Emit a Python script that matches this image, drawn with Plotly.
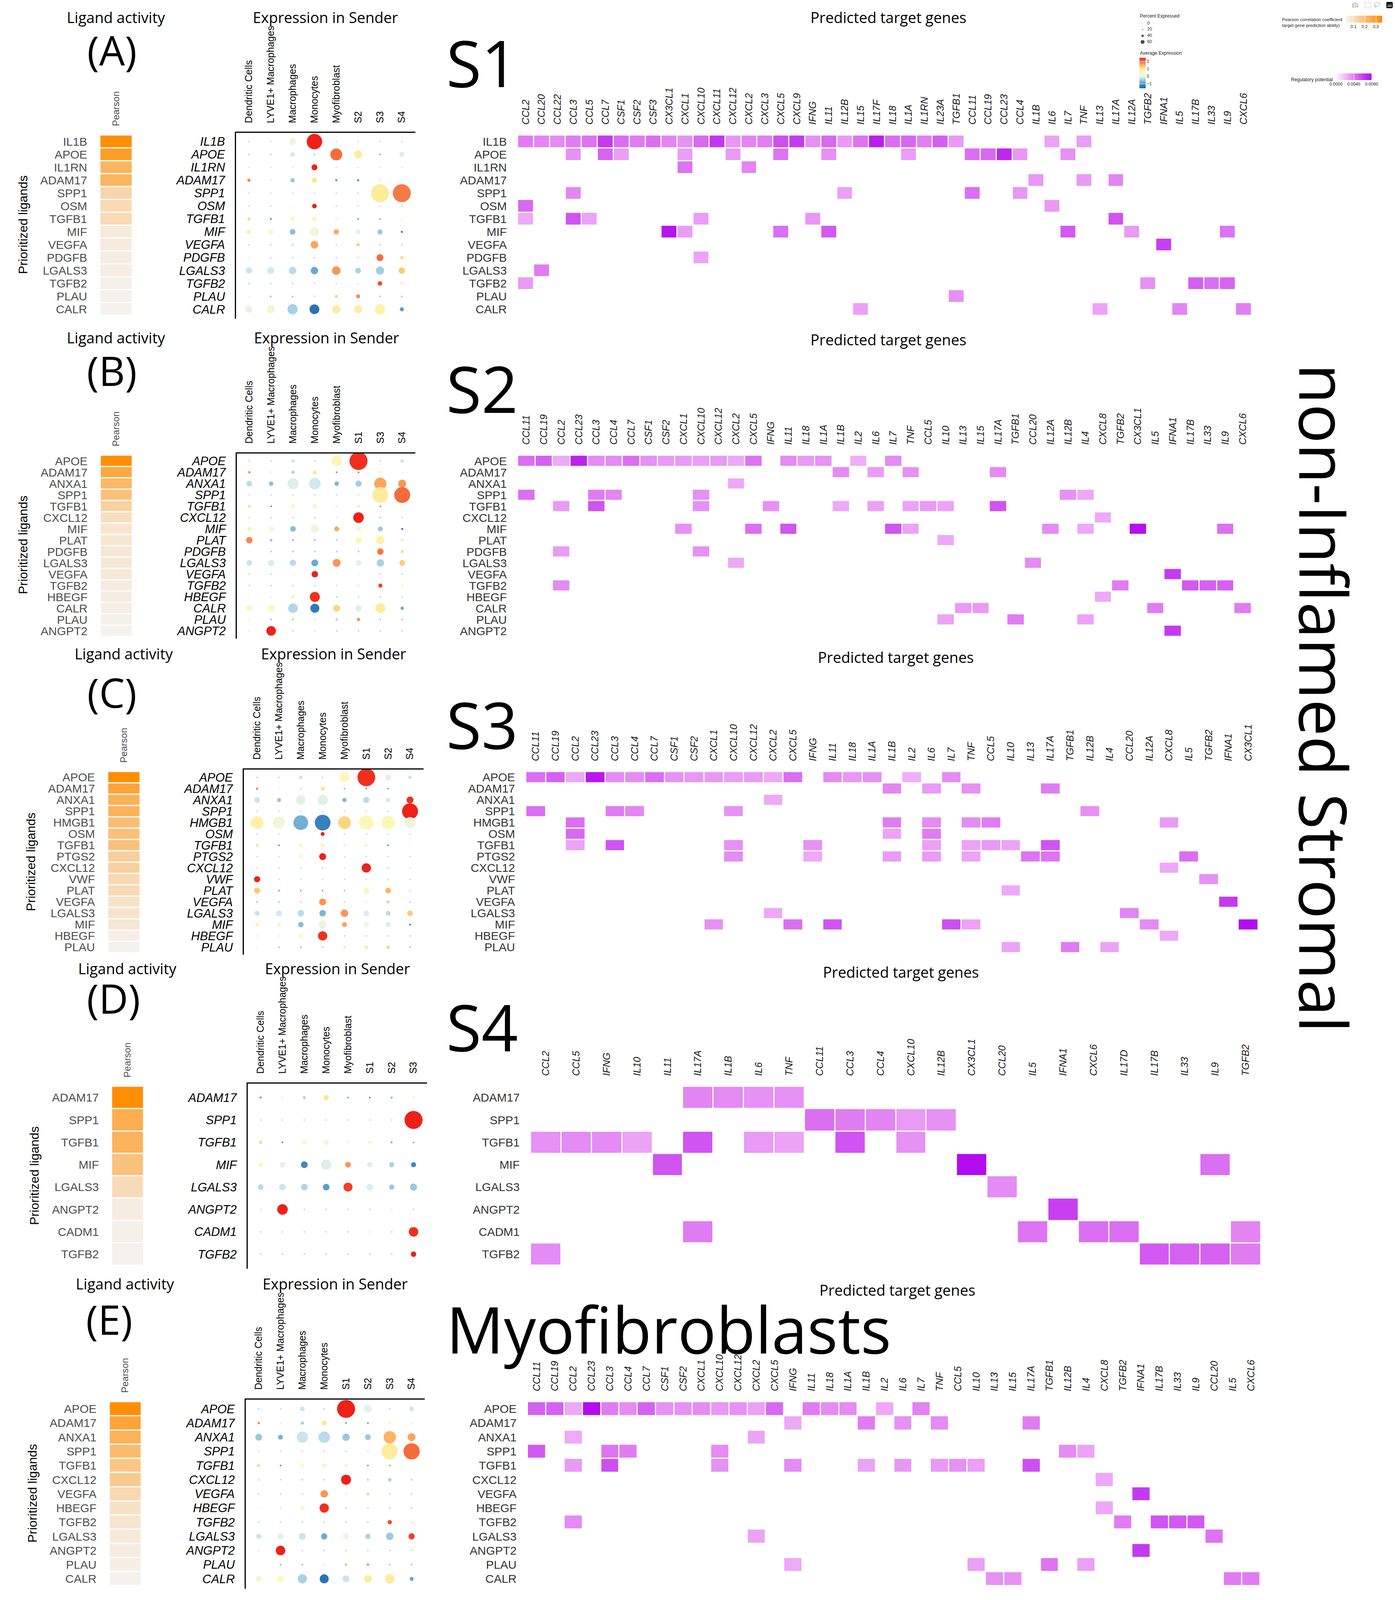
import plotly.graph_objects as go

W, H = 3570, 4997          # reference canvas (all positions below are given in this pixel space)
H_VIEW = 4096              # fallback figure height (the page is resized to the real viewport by JS)

# ============================ DATA ============================
# ---------- Panel A : receiver S1 ----------
A_ligands = ["IL1B", "APOE", "IL1RN", "ADAM17", "SPP1", "OSM", "TGFB1", "MIF", "VEGFA", "PDGFB",
             "LGALS3", "TGFB2", "PLAU", "CALR"]
A_pearson = [0.35, 0.30, 0.23, 0.23, 0.13, 0.115, 0.115, 0.065, 0.06, 0.055, 0.052, 0.045, 0.042, 0.04]
A_senders = ["Dendritic Cells", "LYVE1+ Macrophages", "Macrophages", "Monocytes", "Myofibroblast", "S2", "S3", "S4"]
A_avg_expr = [
    [-0.3, -0.3, 0.2, 2.5, -0.3, -0.3, -0.3, -0.3],
    [-0.5, -0.5, -0.1, -0.6, 2.0, 0.9, -0.6, -0.05],
    [-0.2, -0.2, -0.1, 2.5, -0.2, -0.2, -0.2, -0.2],
    [1.8, -0.2, -0.5, 1.0, -1.0, -1.1, 0.6, -0.1],
    [-0.3, -0.3, -0.3, -0.3, -0.3, -0.3, 0.9, 1.9],
    [-0.3, -0.3, 0.4, 2.5, -0.3, -0.3, -0.3, -0.3],
    [1.2, -1.2, 0.6, 0.5, 0.2, -1.0, -0.7, 0.8],
    [0.8, 0.4, -0.6, 0.3, 1.6, 0.1, -0.5, -1.3],
    [-0.4, -0.4, -0.1, 1.6, -0.3, 1.3, -0.4, -0.4],
    [-0.1, -0.4, -0.4, -0.4, -0.4, -0.3, 2.0, 1.2],
    [-0.2, -0.15, -0.3, -0.8, 1.7, -0.4, -0.45, 1.3],
    [-0.4, -0.4, -0.4, -0.3, -0.3, -0.2, 2.2, 0.9],
    [0.3, -0.7, -0.7, -0.1, 1.3, 1.8, -0.6, -0.6],
    [0.15, 0.4, -0.4, -1.4, 0.9, 0.85, 0.75, -0.9],
]
A_pct_expr = [
    [4, 4, 28, 60, 4, 4, 4, 4],
    [4, 4, 20, 5, 46, 31, 7, 20],
    [3, 3, 3, 23, 3, 3, 3, 3],
    [12, 6, 17, 19, 8, 8, 13, 5],
    [4, 4, 4, 4, 4, 4, 70, 70],
    [4, 4, 5, 18, 4, 4, 4, 4],
    [12, 7, 18, 20, 9, 7, 7, 7],
    [18, 20, 22, 35, 20, 20, 20, 8],
    [4, 4, 12, 30, 4, 13, 4, 4],
    [4, 4, 4, 4, 4, 4, 27, 12],
    [25, 28, 29, 29, 33, 22, 32, 25],
    [4, 4, 4, 4, 4, 4, 18, 9],
    [8, 4, 4, 9, 11, 15, 5, 5],
    [27, 31, 40, 38, 32, 31, 40, 16],
]
A_targets = ["CCL2", "CCL20", "CCL22", "CCL3", "CCL5", "CCL7", "CSF1", "CSF2", "CSF3", "CX3CL1", "CXCL1",
             "CXCL10", "CXCL11", "CXCL12", "CXCL2", "CXCL3", "CXCL5", "CXCL9", "IFNG", "IL11", "IL12B", "IL15",
             "IL17F", "IL18", "IL1A", "IL1RN", "IL23A", "TGFB1", "CCL11", "CCL19", "CCL23", "CCL4", "IL1B", "IL6",
             "IL7", "TNF", "IL13", "IL17A", "IL12A", "TGFB2", "IFNA1", "IL5", "IL17B", "IL33", "IL9", "CXCL6"]
A_potential = {
    "IL1B": {"CCL2": 0.0045, "CCL20": 0.0042, "CCL22": 0.0040, "CCL3": 0.0045, "CCL5": 0.0048, "CCL7": 0.0070,
             "CSF1": 0.0050, "CSF2": 0.0045, "CSF3": 0.0050, "CX3CL1": 0.0042, "CXCL1": 0.0038, "CXCL10": 0.0052,
             "CXCL11": 0.0072, "CXCL12": 0.0036, "CXCL2": 0.0042, "CXCL3": 0.0044, "CXCL5": 0.0062, "CXCL9": 0.0070,
             "IFNG": 0.0038, "IL11": 0.0052, "IL12B": 0.0035, "IL15": 0.0048, "IL17F": 0.0082, "IL18": 0.0050,
             "IL1A": 0.0053, "IL1RN": 0.0044, "IL23A": 0.0056, "TGFB1": 0.0035, "IL6": 0.0032, "TNF": 0.0034},
    "APOE": {"CCL3": 0.0038, "CCL7": 0.0054, "CSF1": 0.0033, "CXCL1": 0.0034, "CXCL12": 0.0035, "CXCL5": 0.0048,
             "IL11": 0.0038, "IL1A": 0.0034, "CCL11": 0.0050, "CCL19": 0.0052, "CCL23": 0.0078, "CCL4": 0.0036,
             "IL7": 0.0038},
    "IL1RN": {"CXCL1": 0.0048, "CXCL2": 0.0042},
    "ADAM17": {"IL1B": 0.0036, "TNF": 0.0035, "IL17A": 0.0042},
    "SPP1": {"CCL3": 0.0042, "IL12B": 0.0033, "CCL11": 0.0050, "CCL4": 0.0036},
    "OSM": {"CCL2": 0.0052, "IL6": 0.0035},
    "TGFB1": {"CCL2": 0.0030, "CCL3": 0.0060, "CCL5": 0.0032, "CXCL10": 0.0034, "IFNG": 0.0036, "IL17A": 0.0060},
    "MIF": {"CX3CL1": 0.0086, "CXCL1": 0.0034, "CXCL5": 0.0050, "IL11": 0.0058, "IL7": 0.0058, "IL12A": 0.0035,
            "IL9": 0.0048},
    "VEGFA": {"IFNA1": 0.0068},
    "PDGFB": {"CXCL10": 0.0032},
    "LGALS3": {"CCL20": 0.0045},
    "TGFB2": {"CCL2": 0.0035, "TGFB2": 0.0038, "IL17B": 0.0056, "IL33": 0.0050, "IL9": 0.0054},
    "PLAU": {"TGFB1": 0.0038},
    "CALR": {"IL15": 0.0033, "IL13": 0.0032, "IL5": 0.0042, "CXCL6": 0.0044},
}

# ---------- Panel B : receiver S2 ----------
B_ligands = ["APOE", "ADAM17", "ANXA1", "SPP1", "TGFB1", "CXCL12", "MIF", "PLAT", "PDGFB", "LGALS3", "VEGFA",
             "TGFB2", "HBEGF", "CALR", "PLAU", "ANGPT2"]
B_pearson = [0.35, 0.27, 0.22, 0.195, 0.145, 0.10, 0.08, 0.075, 0.072, 0.07, 0.068, 0.06, 0.055, 0.052, 0.045, 0.04]
B_senders = ["Dendritic Cells", "LYVE1+ Macrophages", "Macrophages", "Monocytes", "Myofibroblast", "S1", "S3", "S4"]
B_avg_expr = [
    [-0.4, -0.4, -0.2, -0.4, 0.6, 2.4, -0.4, -0.2],
    [1.8, -0.1, -0.4, 1.0, -0.9, -1.2, 0.6, 0.1],
    [-0.3, -0.6, 0.0, -0.15, -0.7, -0.45, 1.6, 1.7],
    [-0.3, -0.3, -0.3, -0.3, -0.3, -0.3, 0.9, 2.0],
    [1.2, -1.3, 0.6, 0.4, 0.15, 1.0, -0.8, 0.8],
    [0.2, -0.4, -0.1, -0.4, -0.2, 2.5, -0.1, -0.3],
    [0.8, 0.4, -0.6, 0.3, 1.6, 0.3, -0.5, -1.3],
    [1.8, -0.6, -0.9, -0.8, -0.6, 0.6, 0.8, 0.2],
    [0.1, -0.5, -0.5, -0.5, -0.5, -0.6, 1.9, 1.2],
    [-0.2, -0.1, -0.3, -0.8, 1.7, 0.0, -0.4, 1.3],
    [-0.4, -0.4, 0.1, 2.5, 0.1, 0.1, -0.4, -0.4],
    [-0.4, -0.4, -0.4, -0.3, -0.3, -0.3, 2.3, 0.9],
    [0.2, -0.1, 0.5, 2.4, -0.4, -0.4, -0.4, -0.4],
    [0.4, 0.6, -0.35, -1.3, 1.2, 0.0, 0.9, -0.8],
    [0.4, -0.7, -0.7, -0.2, 1.4, 1.7, -0.6, -0.6],
    [-0.1, 2.5, -0.4, -0.2, -0.4, -0.4, -0.4, -0.4],
]
B_pct_expr = [
    [4, 4, 14, 6, 41, 70, 6, 14],
    [9, 5, 12, 16, 7, 6, 11, 5],
    [22, 17, 43, 45, 17, 24, 47, 31],
    [4, 4, 4, 4, 4, 4, 62, 62],
    [10, 6, 17, 18, 9, 9, 7, 7],
    [13, 4, 9, 5, 6, 41, 13, 6],
    [16, 20, 22, 32, 19, 19, 19, 8],
    [25, 9, 6, 6, 6, 25, 32, 14],
    [5, 4, 4, 4, 4, 4, 25, 11],
    [22, 24, 25, 27, 31, 22, 29, 22],
    [4, 4, 7, 25, 4, 4, 4, 4],
    [4, 4, 4, 4, 4, 4, 16, 8],
    [5, 4, 17, 39, 4, 4, 4, 4],
    [24, 27, 37, 35, 27, 24, 38, 13],
    [7, 4, 4, 5, 9, 13, 4, 4],
    [4, 37, 4, 4, 4, 4, 4, 4],
]
B_targets = ["CCL11", "CCL19", "CCL2", "CCL23", "CCL3", "CCL4", "CCL7", "CSF1", "CSF2", "CXCL1", "CXCL10", "CXCL12",
             "CXCL2", "CXCL5", "IFNG", "IL11", "IL18", "IL1A", "IL1B", "IL2", "IL6", "IL7", "TNF", "CCL5", "IL10",
             "IL13", "IL15", "IL17A", "TGFB1", "CCL20", "IL12A", "IL12B", "IL4", "CXCL8", "TGFB2", "CX3CL1", "IL5",
             "IFNA1", "IL17B", "IL33", "IL9", "CXCL6"]
B_potential = {
    "APOE": {"CCL11": 0.0050, "CCL19": 0.0055, "CCL2": 0.0030, "CCL23": 0.0080, "CCL3": 0.0040, "CCL4": 0.0040,
             "CCL7": 0.0050, "CSF1": 0.0038, "CSF2": 0.0035, "CXCL1": 0.0035, "CXCL10": 0.0033, "CXCL12": 0.0035,
             "CXCL2": 0.0030, "CXCL5": 0.0048, "IL11": 0.0040, "IL18": 0.0035, "IL1A": 0.0037, "IL2": 0.0028,
             "IL7": 0.0040},
    "ADAM17": {"IL1B": 0.0040, "IL6": 0.0035, "TNF": 0.0038, "IL17A": 0.0040},
    "ANXA1": {"CXCL2": 0.0030},
    "SPP1": {"CCL11": 0.0050, "CCL3": 0.0045, "CCL4": 0.0042, "CXCL10": 0.0038, "IL12B": 0.0038, "IL4": 0.0030},
    "TGFB1": {"CCL2": 0.0035, "CCL3": 0.0060, "CXCL10": 0.0038, "IFNG": 0.0038, "IL1B": 0.0030, "IL6": 0.0033,
              "TNF": 0.0032, "CCL5": 0.0035, "IL10": 0.0032, "IL17A": 0.0060},
    "CXCL12": {"CXCL8": 0.0030},
    "MIF": {"CXCL1": 0.0038, "CXCL5": 0.0050, "IL11": 0.0060, "IL7": 0.0060, "TNF": 0.0032, "IL12A": 0.0040,
            "IL4": 0.0030, "CX3CL1": 0.0088, "IL9": 0.0050},
    "PLAT": {"IL10": 0.0030},
    "PDGFB": {"CCL2": 0.0035, "CXCL10": 0.0038},
    "LGALS3": {"CXCL2": 0.0030, "CCL20": 0.0040},
    "VEGFA": {"IFNA1": 0.0070},
    "TGFB2": {"CCL2": 0.0040, "TGFB2": 0.0045, "IL17B": 0.0058, "IL33": 0.0055, "IL9": 0.0055},
    "HBEGF": {"CXCL8": 0.0030},
    "CALR": {"IL13": 0.0035, "IL15": 0.0035, "IL5": 0.0045, "CXCL6": 0.0045},
    "PLAU": {"IL10": 0.0032, "TGFB1": 0.0045, "IL4": 0.0032},
    "ANGPT2": {"IFNA1": 0.0070},
}

# ---------- Panel C : receiver S3 ----------
C_ligands = ["APOE", "ADAM17", "ANXA1", "SPP1", "HMGB1", "OSM", "TGFB1", "PTGS2", "CXCL12", "VWF", "PLAT",
             "VEGFA", "LGALS3", "MIF", "HBEGF", "PLAU"]
C_pearson = [0.35, 0.28, 0.24, 0.235, 0.20, 0.195, 0.19, 0.15, 0.145, 0.12, 0.115, 0.09, 0.085, 0.075, 0.05, 0.04]
C_senders = ["Dendritic Cells", "LYVE1+ Macrophages", "Macrophages", "Monocytes", "Myofibroblast", "S1", "S2", "S4"]
C_avg_expr = [
    [-0.4, -0.4, -0.2, -0.4, 0.6, 2.4, 0.1, -0.2],
    [1.8, 0.1, 0.0, 1.0, -0.6, -1.0, -0.8, 0.2],
    [-0.2, -0.5, 0.1, 0.05, -0.7, -0.3, -0.1, 2.4],
    [-0.3, -0.3, -0.3, -0.3, -0.3, -0.3, -0.3, 2.5],
    [0.8, 0.3, -0.75, -1.2, 1.2, 0.55, 0.6, 0.2],
    [-0.3, -0.3, 0.5, 2.5, -0.3, -0.3, -0.3, -0.3],
    [1.2, -1.3, 0.5, 0.35, 0.15, 0.9, -1.0, 0.8],
    [-0.3, -0.3, 0.5, 2.5, -0.3, -0.3, -0.3, -0.3],
    [0.2, -0.4, -0.1, -0.4, -0.2, 2.5, -0.1, -0.2],
    [2.5, -0.3, -0.3, -0.3, -0.3, -0.3, -0.3, -0.3],
    [1.3, -0.6, -0.9, -0.9, -0.6, 0.6, 1.5, 0.2],
    [-0.6, -0.6, -0.1, 1.7, -0.4, -0.2, 1.3, -0.4],
    [-0.2, -0.15, -0.3, -0.7, 1.7, -0.05, -0.3, 1.3],
    [0.8, 0.3, -0.6, 0.2, 1.6, 0.2, 0.0, -1.3],
    [0.2, -0.1, 0.5, 2.4, -0.4, -0.4, -0.4, -0.4],
    [0.3, -0.7, -0.7, -0.2, 1.0, 1.0, 1.2, -0.6],
]
C_pct_expr = [
    [4, 4, 14, 6, 38, 69, 24, 14],
    [9, 5, 12, 16, 7, 6, 7, 5],
    [22, 16, 37, 40, 16, 24, 19, 27],
    [4, 4, 4, 4, 4, 4, 4, 62],
    [49, 46, 57, 61, 50, 56, 53, 43],
    [4, 4, 5, 15, 4, 4, 4, 4],
    [10, 6, 16, 17, 9, 9, 7, 6],
    [4, 4, 15, 27, 4, 4, 4, 4],
    [13, 4, 9, 4, 6, 36, 10, 6],
    [24, 3, 3, 3, 3, 3, 3, 3],
    [24, 8, 6, 6, 6, 22, 22, 12],
    [4, 4, 9, 27, 4, 6, 11, 4],
    [20, 24, 25, 25, 29, 22, 19, 22],
    [14, 16, 21, 32, 19, 19, 19, 7],
    [5, 4, 17, 36, 4, 4, 4, 4],
    [7, 5, 5, 8, 9, 12, 13, 5],
]
C_targets = ["CCL11", "CCL19", "CCL2", "CCL23", "CCL3", "CCL4", "CCL7", "CSF1", "CSF2", "CXCL1", "CXCL10", "CXCL12",
             "CXCL2", "CXCL5", "IFNG", "IL11", "IL18", "IL1A", "IL1B", "IL2", "IL6", "IL7", "TNF", "CCL5", "IL10",
             "IL13", "IL17A", "TGFB1", "IL12B", "IL4", "CCL20", "IL12A", "CXCL8", "IL5", "TGFB2", "IFNA1", "CX3CL1"]
C_potential = {
    "APOE": {"CCL11": 0.0050, "CCL19": 0.0055, "CCL2": 0.0030, "CCL23": 0.0085, "CCL3": 0.0040, "CCL4": 0.0040,
             "CCL7": 0.0050, "CSF1": 0.0038, "CSF2": 0.0036, "CXCL1": 0.0036, "CXCL10": 0.0034, "CXCL12": 0.0035,
             "CXCL2": 0.0030, "CXCL5": 0.0050, "IL11": 0.0040, "IL18": 0.0036, "IL1A": 0.0038, "IL2": 0.0028,
             "IL7": 0.0040},
    "ADAM17": {"IL1B": 0.0042, "IL6": 0.0035, "TNF": 0.0038, "IL17A": 0.0045},
    "ANXA1": {"CXCL2": 0.0030},
    "SPP1": {"CCL11": 0.0050, "CCL3": 0.0045, "CCL4": 0.0042, "CXCL10": 0.0038, "IL12B": 0.0038},
    "HMGB1": {"CCL2": 0.0050, "IL1B": 0.0045, "IL6": 0.0040, "TNF": 0.0040, "CCL5": 0.0045, "CXCL8": 0.0035},
    "OSM": {"CCL2": 0.0052, "IL1B": 0.0032, "IL6": 0.0045},
    "TGFB1": {"CCL2": 0.0032, "CCL3": 0.0060, "CXCL10": 0.0038, "IFNG": 0.0038, "IL6": 0.0033, "TNF": 0.0032,
              "CCL5": 0.0035, "IL10": 0.0032, "IL17A": 0.0060},
    "PTGS2": {"CXCL10": 0.0040, "IFNG": 0.0030, "IL1B": 0.0035, "IL6": 0.0035, "TNF": 0.0032, "IL13": 0.0048,
              "IL17A": 0.0048, "IL5": 0.0050},
    "CXCL12": {"CXCL8": 0.0030},
    "VWF": {"TGFB2": 0.0038},
    "PLAT": {"IL10": 0.0030},
    "VEGFA": {"IFNA1": 0.0070},
    "LGALS3": {"CXCL2": 0.0030, "CCL20": 0.0042},
    "MIF": {"CXCL1": 0.0038, "CXCL5": 0.0050, "IL11": 0.0060, "IL7": 0.0062, "TNF": 0.0032, "IL12A": 0.0040,
            "CX3CL1": 0.0090},
    "HBEGF": {"CXCL8": 0.0030},
    "PLAU": {"IL10": 0.0032, "TGFB1": 0.0045, "IL4": 0.0032},
}

# ---------- Panel D : receiver S4 ----------
D_ligands = ["ADAM17", "SPP1", "TGFB1", "MIF", "LGALS3", "ANGPT2", "CADM1", "TGFB2"]
D_pearson = [0.35, 0.25, 0.235, 0.19, 0.11, 0.055, 0.045, 0.04]
D_senders = ["Dendritic Cells", "LYVE1+ Macrophages", "Macrophages", "Monocytes", "Myofibroblast", "S1", "S2", "S3"]
D_avg_expr = [
    [1.8, -0.1, -0.3, 1.0, -0.8, -1.2, -0.9, 0.6],
    [-0.3, -0.3, -0.3, -0.3, -0.3, -0.3, -0.3, 2.5],
    [1.2, -1.3, 0.5, 0.35, 0.15, 0.9, -1.1, -0.8],
    [0.7, 0.05, -1.1, 0.0, 1.7, 0.05, -0.4, -1.1],
    [-0.3, -0.2, -0.35, -0.9, 2.3, -0.05, -0.5, -0.5],
    [-0.3, 2.5, -0.4, -0.4, -0.4, -0.4, -0.2, -0.4],
    [-0.4, -0.4, -0.4, -0.4, -0.4, 0.1, -0.4, 2.4],
    [-0.4, -0.4, -0.4, -0.4, -0.4, -0.4, -0.4, 2.5],
]
D_pct_expr = [
    [9, 5, 13, 21, 7, 6, 7, 11],
    [4, 4, 4, 4, 4, 4, 4, 70],
    [12, 6, 18, 20, 9, 10, 6, 6],
    [17, 22, 26, 41, 22, 22, 20, 20],
    [22, 26, 26, 26, 35, 26, 20, 28],
    [5, 41, 4, 4, 4, 4, 5, 4],
    [4, 4, 4, 4, 4, 8, 4, 37],
    [4, 4, 4, 4, 4, 4, 4, 21],
]
D_targets = ["CCL2", "CCL5", "IFNG", "IL10", "IL11", "IL17A", "IL1B", "IL6", "TNF", "CCL11", "CCL3", "CCL4",
             "CXCL10", "IL12B", "CX3CL1", "CCL20", "IL5", "IFNA1", "CXCL6", "IL17D", "IL17B", "IL33", "IL9", "TGFB2"]
D_potential = {
    "ADAM17": {"IL17A": 0.0042, "IL1B": 0.0040, "IL6": 0.0038, "TNF": 0.0038},
    "SPP1": {"CCL11": 0.0050, "CCL3": 0.0045, "CCL4": 0.0042, "CXCL10": 0.0035, "IL12B": 0.0038},
    "TGFB1": {"CCL2": 0.0038, "CCL5": 0.0040, "IFNG": 0.0040, "IL10": 0.0032, "IL17A": 0.0060, "IL6": 0.0035,
              "TNF": 0.0032, "CCL3": 0.0060, "CXCL10": 0.0038},
    "MIF": {"IL11": 0.0060, "CX3CL1": 0.0090, "IL9": 0.0050},
    "LGALS3": {"CCL20": 0.0040},
    "ANGPT2": {"IFNA1": 0.0068},
    "CADM1": {"IL17A": 0.0045, "IL5": 0.0048, "CXCL6": 0.0050, "IL17D": 0.0050, "TGFB2": 0.0042},
    "TGFB2": {"CCL2": 0.0040, "IL17B": 0.0058, "IL33": 0.0055, "IL9": 0.0055, "TGFB2": 0.0045},
}

# ---------- Panel E : receiver Myofibroblasts ----------
E_ligands = ["APOE", "ADAM17", "ANXA1", "SPP1", "TGFB1", "CXCL12", "VEGFA", "HBEGF", "TGFB2", "LGALS3", "ANGPT2",
             "PLAU", "CALR"]
E_pearson = [0.35, 0.28, 0.24, 0.21, 0.175, 0.165, 0.12, 0.09, 0.08, 0.065, 0.055, 0.05, 0.04]
E_senders = ["Dendritic Cells", "LYVE1+ Macrophages", "Macrophages", "Monocytes", "S1", "S2", "S3", "S4"]
E_avg_expr = [
    [-0.4, -0.4, -0.2, -0.4, 2.5, 0.1, -0.4, -0.2],
    [1.8, -0.1, -0.4, 1.0, -1.2, -0.9, 0.6, -0.1],
    [-0.5, -0.7, -0.2, -0.3, -0.5, -0.5, 1.5, 1.6],
    [-0.3, -0.3, -0.3, -0.3, -0.3, -0.3, 0.9, 2.0],
    [1.2, -1.3, 0.5, 0.4, 0.9, -1.1, -0.8, 0.8],
    [0.2, -0.4, -0.2, -0.4, 2.5, -0.3, -0.4, -0.3],
    [-0.4, -0.4, -0.1, 1.7, -0.2, 1.3, -0.4, -0.4],
    [0.1, -0.2, 0.4, 2.4, -0.4, -0.4, -0.4, -0.4],
    [-0.4, -0.4, -0.4, -0.4, -0.4, -0.4, 2.2, 0.9],
    [-0.2, 0.1, -0.2, -0.8, 0.2, -0.4, -0.5, 2.3],
    [-0.2, 2.5, -0.4, -0.4, -0.4, -0.4, -0.4, -0.4],
    [0.3, -0.7, -0.7, -0.2, 1.4, 1.7, -0.6, -0.6],
    [0.4, 0.6, -0.4, -1.4, -0.2, 0.9, 0.9, -0.8],
]
E_pct_expr = [
    [4, 4, 18, 6, 70, 31, 6, 18],
    [9, 5, 13, 19, 6, 7, 11, 5],
    [27, 19, 44, 45, 29, 23, 48, 31],
    [4, 4, 4, 4, 4, 4, 62, 63],
    [11, 6, 17, 18, 9, 6, 6, 5],
    [12, 4, 9, 4, 39, 9, 14, 8],
    [4, 4, 9, 29, 5, 11, 4, 4],
    [5, 5, 17, 36, 5, 4, 4, 4],
    [4, 4, 4, 4, 4, 4, 17, 8],
    [20, 25, 27, 24, 24, 20, 29, 24],
    [5, 37, 4, 4, 4, 4, 4, 4],
    [6, 4, 4, 5, 10, 10, 4, 4],
    [23, 26, 36, 35, 27, 30, 37, 16],
]
E_targets = ["CCL11", "CCL19", "CCL2", "CCL23", "CCL3", "CCL4", "CCL7", "CSF1", "CSF2", "CXCL1", "CXCL10", "CXCL12",
             "CXCL2", "CXCL5", "IFNG", "IL11", "IL18", "IL1A", "IL1B", "IL2", "IL6", "IL7", "TNF", "CCL5", "IL10",
             "IL13", "IL15", "IL17A", "TGFB1", "IL12B", "IL4", "CXCL8", "TGFB2", "IFNA1", "IL17B", "IL33", "IL9",
             "CCL20", "IL5", "CXCL6"]
E_potential = {
    "APOE": {"CCL11": 0.0055, "CCL19": 0.0055, "CCL2": 0.0030, "CCL23": 0.0090, "CCL3": 0.0045, "CCL4": 0.0040,
             "CCL7": 0.0055, "CSF1": 0.0038, "CSF2": 0.0038, "CXCL1": 0.0040, "CXCL10": 0.0036, "CXCL12": 0.0038,
             "CXCL2": 0.0033, "CXCL5": 0.0052, "IL11": 0.0045, "IL18": 0.0040, "IL1A": 0.0040, "IL2": 0.0030,
             "IL7": 0.0043},
    "ADAM17": {"IFNG": 0.0030, "IL1B": 0.0045, "IL6": 0.0038, "TNF": 0.0040, "IL17A": 0.0045},
    "ANXA1": {"CCL2": 0.0030, "CXCL2": 0.0032},
    "SPP1": {"CCL11": 0.0058, "CCL3": 0.0048, "CCL4": 0.0045, "CXCL10": 0.0040, "IL12B": 0.0040, "IL4": 0.0032},
    "TGFB1": {"CCL2": 0.0035, "CCL3": 0.0062, "CXCL10": 0.0038, "IFNG": 0.0040, "IL1B": 0.0032, "IL6": 0.0036,
              "TNF": 0.0035, "CCL5": 0.0038, "IL10": 0.0033, "IL17A": 0.0062},
    "CXCL12": {"CXCL8": 0.0030},
    "VEGFA": {"IFNA1": 0.0070},
    "HBEGF": {"CXCL8": 0.0030},
    "TGFB2": {"CCL2": 0.0040, "TGFB2": 0.0045, "IL17B": 0.0060, "IL33": 0.0058, "IL9": 0.0058},
    "LGALS3": {"CXCL2": 0.0032, "CCL20": 0.0048},
    "ANGPT2": {"IFNA1": 0.0070},
    "PLAU": {"IFNG": 0.0030, "IL10": 0.0033, "TGFB1": 0.0048, "IL4": 0.0033},
    "CALR": {"IL13": 0.0038, "IL15": 0.0038, "IL5": 0.0045, "CXCL6": 0.0045},
}

LEGEND_PCT = [0, 20, 40, 60]
PEARSON_TICKS = [0.1, 0.2, 0.3]
POTENTIAL_TICKS = [0.0, 0.0045, 0.009]
EXPR_TICKS = [-1, 0, 1, 2]

# ============================ LAYOUT GEOMETRY (reference pixels) ============================
panels = [
    dict(letter="(A)", receiver="S1", ligands=A_ligands, pearson=A_pearson, senders=A_senders, expr=A_avg_expr,
         pct=A_pct_expr, targets=A_targets, potential=A_potential,
         rows=(422, 986), pear=(257, 337), dot_x=(604, 1063), dot_y=(415, 995), c0=637, tgt=(1325, 3203),
         lig=(297, 54), exp=(832, 54), pred=(2273, 54), let=(286, 155), prior=(59, 702), big_y=195),
    dict(letter="(B)", receiver="S2", ligands=B_ligands, pearson=B_pearson, senders=B_senders, expr=B_avg_expr,
         pct=B_pct_expr, targets=B_targets, potential=B_potential,
         rows=(1422, 1988), pear=(258, 337), dot_x=(606, 1063), dot_y=(1416, 1995), c0=638, tgt=(1325, 3203),
         lig=(297, 1054), exp=(835, 1054), pred=(2273, 1060), let=(286, 1156), prior=(59, 1702), big_y=1212),
    dict(letter="(C)", receiver="S3", ligands=C_ligands, pearson=C_pearson, senders=C_senders, expr=C_avg_expr,
         pct=C_pct_expr, targets=C_targets, potential=C_potential,
         rows=(2410, 2976), pear=(277, 357), dot_x=(624, 1084), dot_y=(2403, 2982), c0=658, tgt=(1346, 3220),
         lig=(317, 2041), exp=(853, 2041), pred=(2292, 2052), let=(286, 2161), prior=(79, 2692), big_y=2261),
    dict(letter="(D)", receiver="S4", ligands=D_ligands, pearson=D_pearson, senders=D_senders, expr=D_avg_expr,
         pct=D_pct_expr, targets=D_targets, potential=D_potential,
         rows=(3393, 3952), pear=(287, 366), dot_x=(634, 1093), dot_y=(3384, 3962), c0=667, tgt=(1358, 3227),
         lig=(326, 3024), exp=(863, 3024), pred=(2305, 3035), let=(290, 3116), prior=(88, 3672), big_y=3206),
    dict(letter="(E)", receiver="Myofibroblasts", ligands=E_ligands, pearson=E_pearson, senders=E_senders,
         expr=E_avg_expr, pct=E_pct_expr, targets=E_targets, potential=E_potential,
         rows=(4378, 4953), pear=(281, 360), dot_x=(629, 1087), dot_y=(4371, 4962), c0=662, tgt=(1350, 3225),
         lig=(320, 4009), exp=(857, 4009), pred=(2296, 4028), let=(279, 4119), prior=(83, 4664), big_y=4150),
]
SENDER_STEP = 55.9

ARIAL = "Liberation Sans"
SANS = "Open Sans"

EXPR_SCALE = [[0.0, '#1f63ad'], [0.12, '#3b88c2'], [0.25, '#8cc2dd'], [0.36, '#d4ecf2'], [0.45, '#eef6dc'],
              [0.55, '#fff7b0'], [0.65, '#fde38e'], [0.74, '#fdbd6a'], [0.83, '#f8874a'], [0.92, '#f4532e'],
              [1.0, '#ee2118']]
POT_SCALE = [[0.0, '#fdf5fe'], [0.3, '#f0b2f8'], [0.5, '#e07cf2'], [0.75, '#c740f0'], [1.0, '#b20cef']]
PEAR_SCALE = [[0.0, '#f5f5f5'], [1.0, '#ff8c00']]


def fx(px):
    return px / W


def fy(py):
    return 1 - py / H


AX = dict(showgrid=False, zeroline=False, automargin=False, fixedrange=True)
HIDE = dict(ticks="outside", tickcolor="rgba(0,0,0,0)")

fig = go.Figure()
lay = {}
ann = []
k = 0


def names(i):
    return (("xaxis", "yaxis", "x", "y") if i == 1 else (f"xaxis{i}", f"yaxis{i}", f"x{i}", f"y{i}"))


def txt(x, y, s, size, family=SANS, xanchor="center", angle=0, color="black"):
    ann.append(dict(x=fx(x), y=fy(y), xref="paper", yref="paper", text=s, showarrow=False,
                    xanchor=xanchor, yanchor="middle", textangle=angle,
                    font=dict(family=family, size=size, color=color)))


for p in panels:
    n = len(p["ligands"])
    T, Bt = p["rows"]
    h = (Bt - T) / n
    rows = list(range(n))
    ydom_rows = [fy(Bt), fy(T)]
    lig_ticks = dict(tickmode="array", tickvals=rows)

    # ---- ligand activity (Pearson) ----
    k += 1
    xa, ya, xr, yr = names(k)
    fig.add_trace(go.Heatmap(z=[[v] for v in p["pearson"]], x=[0], y=rows, coloraxis="coloraxis",
                             ygap=3, xaxis=xr, yaxis=yr, hoverinfo="skip"))
    lay[xa] = dict(AX, **HIDE, domain=[fx(p["pear"][0]), fx(p["pear"][1])], anchor=yr, range=[-0.5, 0.5],
                   side="top", tickmode="array", tickvals=[0], ticktext=["Pearson"], tickangle=-90, ticklen=17,
                   tickfont=dict(family=ARIAL, size=24, color="#4d4d4d"))
    lay[ya] = dict(AX, **HIDE, **lig_ticks, domain=ydom_rows, anchor=xr, range=[n - 0.5, -0.5],
                   ticktext=p["ligands"], ticklen=27, tickfont=dict(family=ARIAL, size=30, color="#4d4d4d"))

    # ---- expression in sender (dot plot) ----
    k += 1
    xa, ya, xr, yr = names(k)
    xs, ys, cs, ss = [], [], [], []
    for i in range(n):
        for j in range(len(p["senders"])):
            xs.append(j)
            ys.append(i)
            cs.append(p["expr"][i][j])
            ss.append(max(4.0, p["pct"][i][j] * 0.66))
    fig.add_trace(go.Scatter(x=xs, y=ys, mode="markers", xaxis=xr, yaxis=yr, hoverinfo="skip",
                             marker=dict(size=ss, color=cs, coloraxis="coloraxis3", line=dict(width=0), opacity=1)))
    x0, x1 = p["dot_x"]
    y0, y1 = p["dot_y"]
    lay[xa] = dict(AX, **HIDE, domain=[fx(x0), fx(x1)], anchor=yr,
                   range=[(x0 - p["c0"]) / SENDER_STEP, (x1 - p["c0"]) / SENDER_STEP],
                   side="top", tickmode="array", tickvals=list(range(len(p["senders"]))), ticktext=p["senders"],
                   tickangle=-90, ticklen=17, tickfont=dict(family=ARIAL, size=25, color="black"),
                   showline=True, linecolor="black", linewidth=3)
    lay[ya] = dict(AX, **HIDE, **lig_ticks, domain=[fy(y1), fy(y0)], anchor=xr,
                   range=[(y1 - T) / h - 0.5, (y0 - T) / h - 0.5],
                   ticktext=[f"<i>{l}</i>" for l in p["ligands"]], ticklen=19,
                   tickfont=dict(family=ARIAL, size=31, color="black"),
                   showline=True, linecolor="black", linewidth=3)

    # ---- predicted target genes (regulatory potential heatmap) ----
    k += 1
    xa, ya, xr, yr = names(k)
    m = len(p["targets"])
    z = [[p["potential"].get(l, {}).get(t) for t in p["targets"]] for l in p["ligands"]]
    fig.add_trace(go.Heatmap(z=z, x=list(range(m)), y=rows, coloraxis="coloraxis2", xgap=3, ygap=3,
                             xaxis=xr, yaxis=yr, hoverinfo="skip"))
    lay[xa] = dict(AX, **HIDE, domain=[fx(p["tgt"][0]), fx(p["tgt"][1])], anchor=yr, range=[-0.5, m - 0.5],
                   side="top", tickmode="array", tickvals=list(range(m)),
                   ticktext=[f"<i>{t}</i>" for t in p["targets"]], tickangle=-90, ticklen=21,
                   tickfont=dict(family=ARIAL, size=25, color="#1a1a1a"))
    lay[ya] = dict(AX, **HIDE, **lig_ticks, domain=ydom_rows, anchor=xr, range=[n - 0.5, -0.5],
                   ticktext=p["ligands"], ticklen=21, tickfont=dict(family=ARIAL, size=30, color="#333333"))

    # ---- texts ----
    txt(p["lig"][0], p["lig"][1], "Ligand activity", 38)
    txt(p["exp"][0], p["exp"][1], "Expression in Sender", 38)
    txt(p["pred"][0], p["pred"][1], "Predicted target genes", 38)
    txt(p["let"][0], p["let"][1], p["letter"], 104)
    txt(p["prior"][0], p["prior"][1], "Prioritized ligands", 32, family=ARIAL, angle=-90)
    txt(1140, p["big_y"], p["receiver"], 164, xanchor="left")

# big vertical label
ann.append(dict(x=fx(3390), y=fy(2180), xref="paper", yref="paper", text="non-Inflamed Stromal",
                showarrow=False, textangle=90, xanchor="center", yanchor="middle",
                font=dict(family=SANS, size=168, color="black")))

# ---- Percent Expressed legend ----
k += 1
xa, ya, xr, yr = names(k)
fig.add_trace(go.Scatter(x=[9] * len(LEGEND_PCT), y=LEGEND_PCT, mode="markers", xaxis=xr, yaxis=yr,
                         hoverinfo="skip",
                         marker=dict(color="black", size=[max(2.0, v * 0.18) for v in LEGEND_PCT])))
fig.add_trace(go.Scatter(x=[21] * len(LEGEND_PCT), y=LEGEND_PCT, mode="text", xaxis=xr, yaxis=yr,
                         hoverinfo="skip", text=[str(v) for v in LEGEND_PCT], textposition="middle right",
                         textfont=dict(family=ARIAL, size=11, color="#222")))
lay[xa] = dict(AX, domain=[fx(2915), fx(2960)], anchor=yr, range=[0, 45], visible=False)
lay[ya] = dict(AX, domain=[fy(142), fy(62)], anchor=xr, range=[(142 - 73) * 60 / 58, (62 - 73) * 60 / 58],
               visible=False)

small = dict(family=ARIAL, size=12, color="#222")
ann += [
    dict(x=fx(2915), y=fy(50), xref="paper", yref="paper", text="Percent Expressed", showarrow=False,
         xanchor="left", yanchor="middle", font=small),
    dict(x=fx(2915), y=fy(166), xref="paper", yref="paper", text="Average Expression", showarrow=False,
         xanchor="left", yanchor="middle", font=small),
    dict(x=fx(3279), y=fy(70), xref="paper", yref="paper",
         text="Pearson correlation coefficient<br>target gene prediction ability)", showarrow=False,
         xanchor="left", yanchor="middle", align="left", font=dict(family=ARIAL, size=11.5, color="#222")),
    dict(x=fx(3413), y=fy(249), xref="paper", yref="paper", text="Regulatory potential", showarrow=False,
         xanchor="right", yanchor="middle", font=small),
]

cb_font = dict(family=ARIAL, size=11, color="#222")
lay["coloraxis"] = dict(colorscale=PEAR_SCALE, cmin=0.03, cmax=0.356,
                        colorbar=dict(orientation="h", x=fx(3444), xanchor="left", y=fy(49), yanchor="top",
                                      len=93 / W, lenmode="fraction", thickness=18, thicknessmode="pixels",
                                      xpad=0, ypad=0, outlinewidth=0, tickvals=PEARSON_TICKS,
                                      ticks="inside", tickcolor="white", ticklen=18, tickfont=cb_font))
lay["coloraxis2"] = dict(colorscale=POT_SCALE, cmin=0.0, cmax=0.009,
                         colorbar=dict(orientation="h", x=fx(3419), xanchor="left", y=fy(229), yanchor="top",
                                       len=91 / W, lenmode="fraction", thickness=17, thicknessmode="pixels",
                                       xpad=0, ypad=0, outlinewidth=0, tickvals=POTENTIAL_TICKS,
                                       ticktext=[f"{v:.4f}" for v in POTENTIAL_TICKS],
                                       ticks="inside", tickcolor="white", ticklen=17, tickfont=cb_font))
lay["coloraxis3"] = dict(colorscale=EXPR_SCALE, cmin=-1.6, cmax=2.5,
                         colorbar=dict(orientation="v", x=fx(2916), xanchor="left", y=fy(180), yanchor="top",
                                       len=95 / H, lenmode="fraction", thickness=16, thicknessmode="pixels",
                                       xpad=0, ypad=0, outlinewidth=0, tickvals=EXPR_TICKS,
                                       ticks="inside", tickcolor="white", ticklen=16, tickfont=cb_font))

fig.update_layout(lay)
fig.update_layout(width=W, height=H_VIEW, margin=dict(l=0, r=0, t=0, b=0), showlegend=False,
                  paper_bgcolor="white", plot_bgcolor="white", template="none",
                  font=dict(family=ARIAL, color="black"), annotations=ann)

# fit the figure exactly to the browser viewport (all positions are relative to the paper)
FIT_JS = (
    "document.documentElement.style.margin='0';document.body.style.margin='0';"
    "document.documentElement.style.overflow='hidden';document.body.style.overflow='hidden';"
    "var gd=document.getElementById('{plot_id}');"
    "var w=window.innerWidth||3570;var h=window.innerHeight||4096;"
    "return Plotly.relayout(gd,{width:w,height:h});"
)
fig.write_html("out.html", post_script=FIT_JS)
